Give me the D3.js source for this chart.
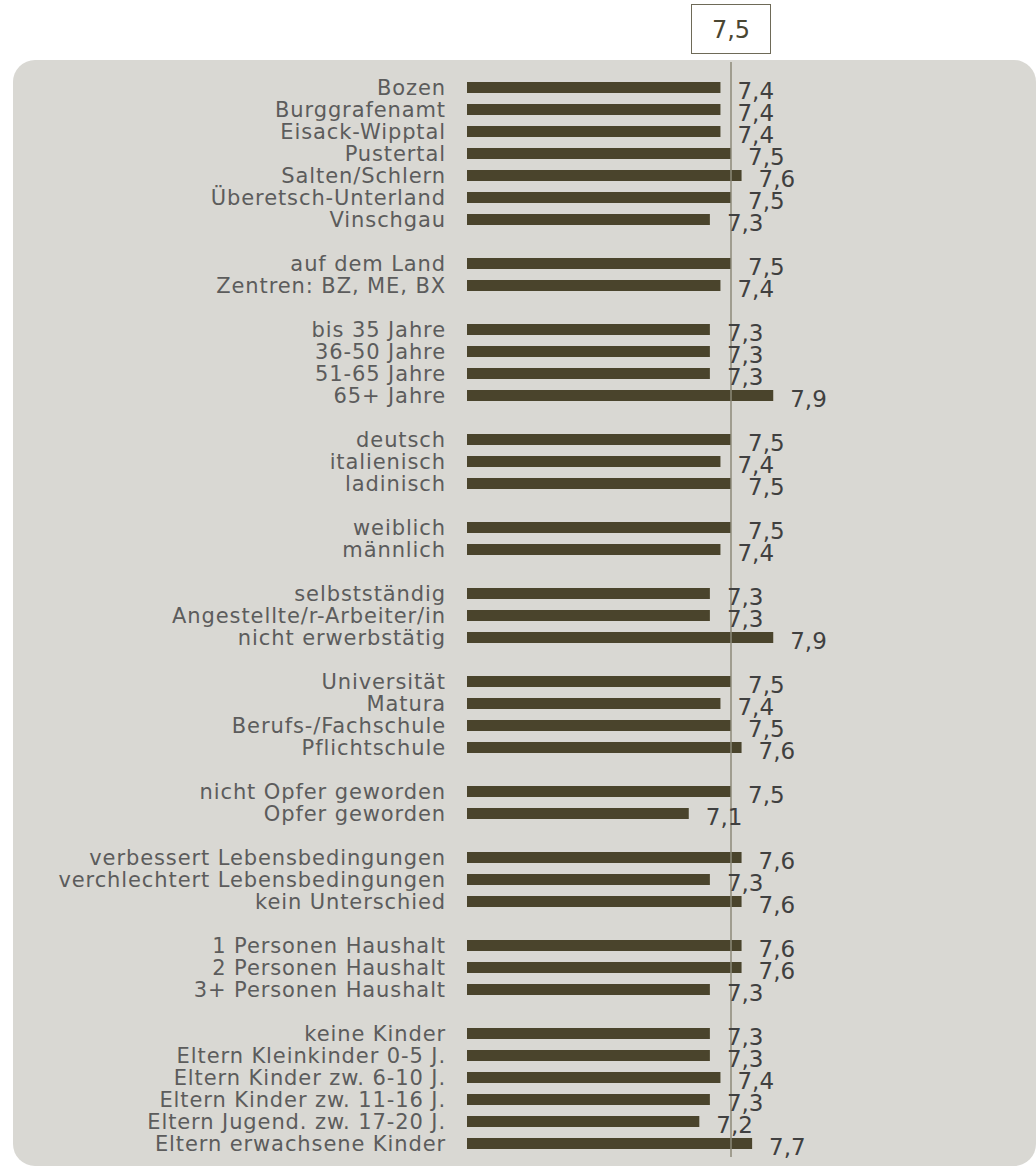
<!DOCTYPE html>
<html>
<head>
<meta charset="utf-8">
<script src="https://cdn.jsdelivr.net/npm/d3@7"></script>
<style>
  body { margin: 0; background: #fff; }
  svg { display: block; font-family: "DejaVu Sans", Verdana, sans-serif; }
</style>
</head>
<body>
<div id="chart"></div>
<script>
const categories = [
  "Bozen", "Burggrafenamt", "Eisack-Wipptal", "Pustertal", "Salten/Schlern", "Überetsch-Unterland", "Vinschgau",
  "auf dem Land", "Zentren: BZ, ME, BX",
  "bis 35 Jahre", "36-50 Jahre", "51-65 Jahre", "65+ Jahre",
  "deutsch", "italienisch", "ladinisch",
  "weiblich", "männlich",
  "selbstständig", "Angestellte/r-Arbeiter/in", "nicht erwerbstätig",
  "Universität", "Matura", "Berufs-/Fachschule", "Pflichtschule",
  "nicht Opfer geworden", "Opfer geworden",
  "verbessert Lebensbedingungen", "verchlechtert Lebensbedingungen", "kein Unterschied",
  "1 Personen Haushalt", "2 Personen Haushalt", "3+ Personen Haushalt",
  "keine Kinder", "Eltern Kleinkinder 0-5 J.", "Eltern Kinder zw. 6-10 J.", "Eltern Kinder zw. 11-16 J.",
  "Eltern Jugend. zw. 17-20 J.", "Eltern erwachsene Kinder"
];
const values = [
  7.4, 7.4, 7.4, 7.5, 7.6, 7.5, 7.3,
  7.5, 7.4,
  7.3, 7.3, 7.3, 7.9,
  7.5, 7.4, 7.5,
  7.5, 7.4,
  7.3, 7.3, 7.9,
  7.5, 7.4, 7.5, 7.6,
  7.5, 7.1,
  7.6, 7.3, 7.6,
  7.6, 7.6, 7.3,
  7.3, 7.3, 7.4, 7.3, 7.2, 7.7
];
const groupSizes = [7, 2, 4, 3, 2, 3, 4, 2, 3, 3, 6];
const overall = 7.5;

const width = 1036, height = 1167;

// slot index for every row, one empty slot between groups
let rows = [];
let slot = 0, k = 0;
groupSizes.forEach(function(n) {
  for (let i = 0; i < n; i++) {
    rows.push({ label: categories[k], value: values[k], slot: slot });
    k++; slot++;
  }
  slot++;
});
const lastSlot = slot - 2;

const svg = d3.select("#chart").append("svg")
  .attr("width", width)
  .attr("height", height);

// panel
svg.append("rect")
  .attr("x", 13).attr("y", 60)
  .attr("width", 1023).attr("height", 1106)
  .attr("rx", 22).attr("ry", 22)
  .attr("fill", "#d9d8d3");

let x = d3.scaleLinear().domain([5, 7.5]).range([467, 731]);
let y = d3.scaleLinear().domain([0, lastSlot]).range([87.5, 1143.5]);

const fmt = v => d3.format(".1f")(v).replace(".", ",");

// average box
svg.append("rect")
  .attr("x", x(overall) - 39.5).attr("y", 4.5)
  .attr("width", 79).attr("height", 49)
  .attr("fill", "#fff")
  .attr("stroke", "#6e6a58")
  .attr("stroke-width", 1);

svg.append("text")
  .attr("x", x(overall)).attr("y", 30)
  .attr("text-anchor", "middle")
  .attr("dominant-baseline", "central")
  .style("font-size", "24px")
  .attr("fill", "#4a4632")
  .text(fmt(overall));

// bars
svg.selectAll("rect.bar").data(rows).enter()
  .append("rect")
  .attr("class", "bar")
  .attr("x", x(5))
  .attr("y", d => y(d.slot) - 5.5)
  .attr("width", d => x(d.value) - x(5))
  .attr("height", 11)
  .attr("fill", "#4a442c");

// reference line
svg.append("line")
  .attr("x1", x(overall)).attr("x2", x(overall))
  .attr("y1", 62).attr("y2", 1157)
  .attr("stroke", "#8d8a78")
  .attr("stroke-width", 1.5);

// category labels
svg.selectAll("text.cat").data(rows).enter()
  .append("text")
  .attr("class", "cat")
  .attr("x", 446)
  .attr("y", d => y(d.slot))
  .attr("text-anchor", "end")
  .attr("dominant-baseline", "central")
  .style("font-size", "21px")
  .style("letter-spacing", "0.9px")
  .attr("fill", "#5c5c5c")
  .text(d => d.label);

// value labels
svg.selectAll("text.val").data(rows).enter()
  .append("text")
  .attr("class", "val")
  .attr("x", d => x(d.value) + 17)
  .attr("y", d => y(d.slot) + 3)
  .attr("dominant-baseline", "central")
  .style("font-size", "23px")
  .attr("fill", "#404040")
  .text(d => fmt(d.value));
</script>
</body>
</html>
